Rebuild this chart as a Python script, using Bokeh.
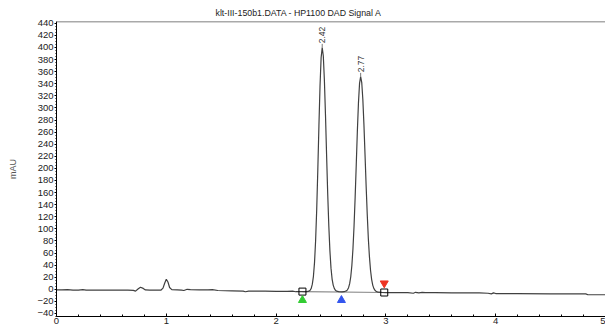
from bokeh.plotting import figure
from bokeh.models import (Range1d, SingleIntervalTicker, Span, Title,
                          ColumnDataSource)
from bokeh.embed import file_html
from bokeh.resources import INLINE
from bokeh.core.properties import value

# ---- data ----
chart_title = "klt-III-150b1.DATA - HP1100 DAD Signal A"
y_label = "mAU"

time = [0.00, 0.05, 0.10, 0.15, 0.20, 0.24, 0.27, 0.35, 0.50, 0.65, 0.70, 0.72,
        0.745, 0.765, 0.79, 0.81, 0.85, 0.95, 0.97, 0.985, 1.00, 1.015, 1.03,
        1.05, 1.10, 1.14, 1.16, 1.19, 1.22, 1.30, 1.38, 1.42, 1.47, 1.60, 1.70,
        1.72, 1.75, 1.90, 2.00, 2.10, 2.15, 2.18, 2.22, 2.26,
        2.28, 2.30, 2.31, 2.32, 2.33, 2.34, 2.35, 2.36, 2.37, 2.38, 2.39, 2.40,
        2.41, 2.42, 2.43, 2.44, 2.45, 2.46, 2.47, 2.48, 2.49, 2.50, 2.51, 2.52,
        2.53, 2.54, 2.55, 2.57, 2.60, 2.62, 2.63, 2.64, 2.65, 2.66, 2.67, 2.68,
        2.69, 2.70, 2.71, 2.72, 2.73, 2.74, 2.75, 2.76, 2.77, 2.78, 2.79, 2.80,
        2.81, 2.82, 2.83, 2.84, 2.85, 2.86, 2.87, 2.88, 2.89, 2.90, 2.91, 2.93,
        2.96, 3.00, 3.05, 3.20, 3.25, 3.27, 3.30, 3.33, 3.36, 3.45, 3.60, 3.85,
        3.93, 3.96, 3.98, 4.00, 4.20, 4.50, 4.82, 4.84, 5.00]
signal = [-1.0, -1.0, -0.5, -1.5, -1.5, -0.5, -1.5, -1.5, -1.5, -1.5, -1.8, -3.0,
          1.0, 3.5, 1.5, -1.0, -1.5, -1.5, 2.0, 10.0, 16.5, 12.0, 3.0,
          -0.5, -1.0, -1.5, -2.0, 0.0, -0.5, -1.0, -1.0, -0.5, -2.0, -2.5, -3.0,
          -4.0, -3.0, -3.0, -3.5, -3.5, -3.0, -4.0, -4.0, -4.0,
          -3.8, -3.0, -1.5, 1.5, 8.5, 21.5, 44.5, 81, 133, 198, 270, 336,
          383, 400, 386, 345, 287, 221, 158, 105, 64, 35, 17, 7,
          1.5, -1.5, -3.0, -3.8, -4.2, -4.0, -3.2, -2.6, -0.9, 2.7, 9.3, 20.8,
          39.4, 67, 105, 152.5, 206, 261, 308, 340.5, 352, 342, 314, 272,
          222, 171, 124, 84, 54, 31.5, 16.5, 7, 1.5, -1.5, -3.2, -4.8,
          -5.2, -5.5, -5.5, -5.5, -6.5, -5.0, -6.0, -5.0, -5.5, -5.5, -6.0, -6.0,
          -6.5, -7.5, -6.0, -7.0, -7.0, -7.5, -7.5, -9.0, -9.0]

peak_rt = [2.42, 2.77]
peak_height = [400, 352]
peak_text = ["2.42", "2.77"]

baseline_t = [2.24, 2.985]
baseline_v = [-3.8, -5.3]
start_t = [2.24]
valley_t = [2.595]
end_t = [2.985]

X_MIN, X_MAX = 0, 5
Y_MIN, Y_MAX = -45, 443

FONT = "Liberation Sans"

p = figure(width=605, height=328, output_backend="svg", toolbar_location=None,
           x_range=Range1d(X_MIN, X_MAX), y_range=Range1d(Y_MIN, Y_MAX),
           min_border_left=56, min_border_right=0, min_border_top=21,
           min_border_bottom=12, title=None)
p.background_fill_color = "white"
p.border_fill_color = "white"
p.outline_line_color = None
p.grid.visible = False

p.add_layout(Title(text=chart_title, text_font=FONT, text_font_size="8.8px",
                   text_font_style="normal", text_color="#222222",
                   align="left", offset=159, standoff=7), "above")

# top frame line
p.add_layout(Span(location=Y_MAX, dimension="width", line_color="#555555",
                  line_width=1.3))

# x axis
xa = p.xaxis[0]
xa.ticker = SingleIntervalTicker(interval=1, num_minor_ticks=5)
xa.major_label_text_font = FONT
xa.major_label_text_font_size = "9.5px"
xa.major_label_text_color = "#222222"
xa.major_label_standoff = 1
xa.major_tick_in = 3
xa.major_tick_out = 0
xa.minor_tick_in = 2
xa.minor_tick_out = 0
xa.axis_line_color = "black"
xa.major_tick_line_color = "black"
xa.minor_tick_line_color = "black"

# y axis
ya = p.yaxis[0]
ya.ticker = SingleIntervalTicker(interval=20, num_minor_ticks=4)
ya.major_label_text_font = FONT
ya.major_label_text_font_size = "9.5px"
ya.major_label_text_color = "#222222"
ya.major_label_standoff = 1
ya.major_tick_in = 0
ya.major_tick_out = 2
ya.minor_tick_in = 0
ya.minor_tick_out = 1
ya.axis_line_color = "black"
ya.axis_label = y_label
ya.axis_label_text_font = FONT
ya.axis_label_text_font_size = "9px"
ya.axis_label_text_font_style = "normal"
ya.axis_label_text_color = "#555555"
ya.axis_label_standoff = 16

# baseline between integration marks
p.line(baseline_t, baseline_v, line_color="#8a8a8a", line_width=1.2)

# trace
p.line(time, signal, line_color="#404040", line_width=1.2)

# peak ticks + labels
pk = ColumnDataSource(dict(x=peak_rt, y=peak_height, t=peak_text,
                           y1=[h + 6 for h in peak_height],
                           ty=[h + 7 for h in peak_height]))
p.segment(x0="x", y0="y", x1="x", y1="y1", source=pk, line_color="#555555",
          line_width=0.8)
p.text(x="x", y="ty", text="t", source=pk, angle=1.5708,
       text_align="left", text_baseline="middle",
       text_font=value(FONT), text_font_size="8.5px", text_color="#333333")

# integration markers
p.scatter(baseline_t, baseline_v, marker="square", size=7,
          fill_color=None, line_color="black", line_width=1)
p.scatter(start_t, [-18], marker="triangle", size=8,
          fill_color="#33cc33", line_color="#33cc33")
p.scatter(valley_t, [-18], marker="triangle", size=8,
          fill_color="#3355ee", line_color="#3355ee")
p.scatter(end_t, [10], marker="inverted_triangle", size=8,
          fill_color="#ee3322", line_color="#ee3322")

open("out.html", "w").write(file_html(p, INLINE))
